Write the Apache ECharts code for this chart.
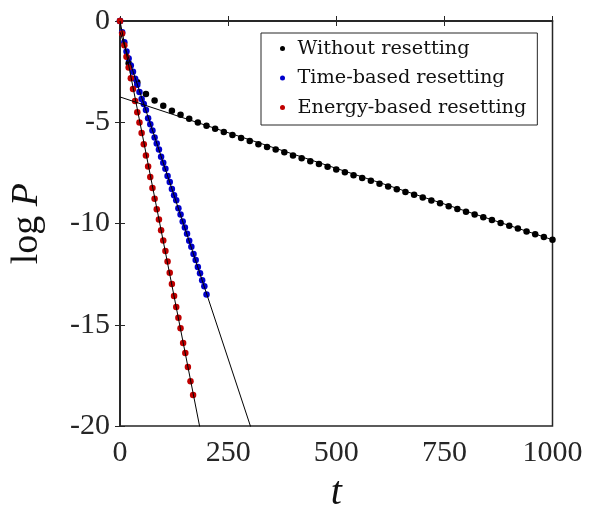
<!DOCTYPE html>
<html>
<head>
<meta charset="utf-8">
<script src="https://cdn.jsdelivr.net/npm/echarts@6/dist/echarts.min.js"></script>
<style>
  html, body { margin: 0; padding: 0; background: #fff; }
  #chart { width: 589px; height: 518px; }
</style>
</head>
<body>
<div id="chart"></div>
<script>
// Without resetting (every 20 time units)
var blackT = [0,20,40,60,80,100,120,140,160,180,200,220,240,260,280,300,320,340,360,380,400,
  420,440,460,480,500,520,540,560,580,600,620,640,660,680,700,720,740,760,780,800,
  820,840,860,880,900,920,940,960,980,1000]
var blackY = [0,-2.08,-3.03,-3.6,-3.93,-4.19,-4.43,-4.63,-4.83,-5.01,-5.17,-5.32,-5.48,-5.63,-5.78,-5.93,-6.09,-6.22,-6.35,-6.48,-6.64,
  -6.78,-6.92,-7.06,-7.19,-7.33,-7.47,-7.61,-7.75,-7.89,-8.03,-8.17,-8.31,-8.44,-8.58,-8.72,-8.86,-9.0,-9.14,-9.28,-9.42,
  -9.55,-9.69,-9.83,-9.97,-10.11,-10.25,-10.39,-10.53,-10.66,-10.8]

// Time-based resetting
var blueT = [0,5,10,15,20,25,30,35,40,45,50,55,60,65,70,75,80,85,90,95,100,
  105,110,115,120,125,130,135,140,145,150,155,160,165,170,175,180,185,190,195,200]
var blueY = [0,-0.55,-1.05,-1.5,-1.85,-2.2,-2.5,-2.85,-3.15,-3.5,-3.85,-4.1,-4.4,-4.8,-5.1,-5.4,-5.75,-6.05,-6.35,-6.7,-7.0,
  -7.3,-7.65,-7.95,-8.3,-8.6,-8.85,-9.25,-9.55,-9.9,-10.2,-10.5,-10.85,-11.15,-11.5,-11.8,-12.15,-12.45,-12.8,-13.1,-13.5]

// Energy-based resetting
var redT = [0,5,10,15,20,25,30,35,40,45,50,55,60,65,70,75,80,85,90,95,100,
  105,110,115,120,125,130,135,140,146,151,157,163,169]
var redY = [0,-0.62,-1.2,-1.76,-2.3,-2.83,-3.36,-3.95,-4.5,-5.01,-5.53,-6.08,-6.64,-7.18,-7.7,-8.24,-8.77,-9.3,-9.8,-10.33,-10.84,
  -11.36,-11.87,-12.43,-12.99,-13.58,-14.12,-14.65,-15.17,-15.9,-16.39,-17.08,-17.78,-18.47]

// straight-line fits: [intercept, slope, tStart, tEnd]
var fitBlack = [-3.75, -0.00705, 0, 1000]
var fitBlue = [-0.55, -0.0645, 0, 310]
var fitRed = [0, -0.1087, 0, 190]

var names = ['Without resetting', 'Time-based resetting', 'Energy-based resetting']
var colors = ['#000000', '#0000cc', '#c00000']
var xTicks = [0, 250, 500, 750, 1000]
var yTicks = [-20, -15, -10, -5, 0]

function pairs(ts, ys) {
  return ts.map(function (t, i) { return [t, ys[i]] })
}
function fitLine(f) {
  return [[f[2], f[0] + f[1] * f[2]], [f[3], f[0] + f[1] * f[3]]]
}

var axisColor = '#262626'
var tickFont = { fontFamily: 'Liberation Serif', fontSize: 30, color: axisColor }

var chart = echarts.init(document.getElementById('chart'))
var option = {
  animation: false,
  backgroundColor: '#fff',
  grid: {
    left: 117.5,
    right: 36.5,
    top: 21,
    bottom: 91,
    show: true,
    borderColor: axisColor,
    borderWidth: 1.5,
    backgroundColor: 'transparent'
  },
  legend: {
    data: names.map(function (n) { return { name: n, icon: 'circle' } }),
    orient: 'vertical',
    left: 261,
    top: 33,
    itemWidth: 20,
    itemHeight: 5,
    itemGap: 10.5,
    padding: [6, 11, 8, 19],
    backgroundColor: '#fff',
    borderColor: axisColor,
    borderWidth: 1,
    selectedMode: false,
    textStyle: { fontFamily: 'DejaVu Serif', fontSize: 19.3, color: '#111' }
  },
  xAxis: [{
    type: 'value',
    min: xTicks[0],
    max: xTicks[xTicks.length - 1],
    interval: 250,
    name: 't',
    nameLocation: 'middle',
    nameGap: 42,
    nameTextStyle: { fontFamily: 'Liberation Serif', fontStyle: 'italic', fontSize: 40, color: '#111' },
    axisLine: { show: true, lineStyle: { color: axisColor, width: 1.5 } },
    axisTick: { show: true, inside: true, length: 5, lineStyle: { color: axisColor } },
    axisLabel: Object.assign({ margin: 12, formatter: function (v) { return String(v) } }, tickFont),
    splitLine: { show: false }
  }, {
    type: 'value',
    position: 'top',
    min: xTicks[0],
    max: xTicks[xTicks.length - 1],
    interval: 250,
    axisLine: { show: true, lineStyle: { color: axisColor, width: 1.5 } },
    axisTick: { show: true, inside: true, length: 5, lineStyle: { color: axisColor } },
    axisLabel: { show: false },
    splitLine: { show: false }
  }],
  yAxis: [{
    type: 'value',
    min: yTicks[0],
    max: yTicks[yTicks.length - 1],
    interval: 5,
    name: '{a|log }{b|P}',
    nameLocation: 'middle',
    nameRotate: 90,
    nameGap: 74,
    nameTextStyle: {
      rich: {
        a: { fontFamily: 'Liberation Serif', fontSize: 38, color: '#111' },
        b: { fontFamily: 'Liberation Serif', fontStyle: 'italic', fontSize: 38, color: '#111' }
      }
    },
    axisLine: { show: true, lineStyle: { color: axisColor, width: 1.5 } },
    axisTick: { show: true, inside: true, length: 5, lineStyle: { color: axisColor } },
    axisLabel: Object.assign({ margin: 10, formatter: function (v) { return String(v) } }, tickFont),
    splitLine: { show: false }
  }, {
    type: 'value',
    position: 'right',
    min: yTicks[0],
    max: yTicks[yTicks.length - 1],
    interval: 5,
    axisLine: { show: true, lineStyle: { color: axisColor, width: 1.5 } },
    axisTick: { show: true, inside: true, length: 5, lineStyle: { color: axisColor } },
    axisLabel: { show: false },
    splitLine: { show: false }
  }],
  series: [
    { name: names[0], type: 'scatter', data: pairs(blackT, blackY), symbolSize: 6.5, itemStyle: { color: colors[0], opacity: 1 }, z: 2 },
    { name: names[1], type: 'scatter', data: pairs(blueT, blueY), symbolSize: 6.5, itemStyle: { color: colors[1], opacity: 1 }, z: 3 },
    { name: names[2], type: 'scatter', data: pairs(redT, redY), symbolSize: 6.5, itemStyle: { color: colors[2], opacity: 1 }, z: 4 },
    { type: 'line', data: fitLine(fitBlack), symbol: 'none', lineStyle: { color: '#000', width: 1 }, z: 5, silent: true },
    { type: 'line', data: fitLine(fitBlue), symbol: 'none', lineStyle: { color: '#000', width: 1 }, z: 5, silent: true },
    { type: 'line', data: fitLine(fitRed), symbol: 'none', lineStyle: { color: '#000', width: 1 }, z: 5, silent: true }
  ]
}
chart.setOption(option)
</script>
</body>
</html>
